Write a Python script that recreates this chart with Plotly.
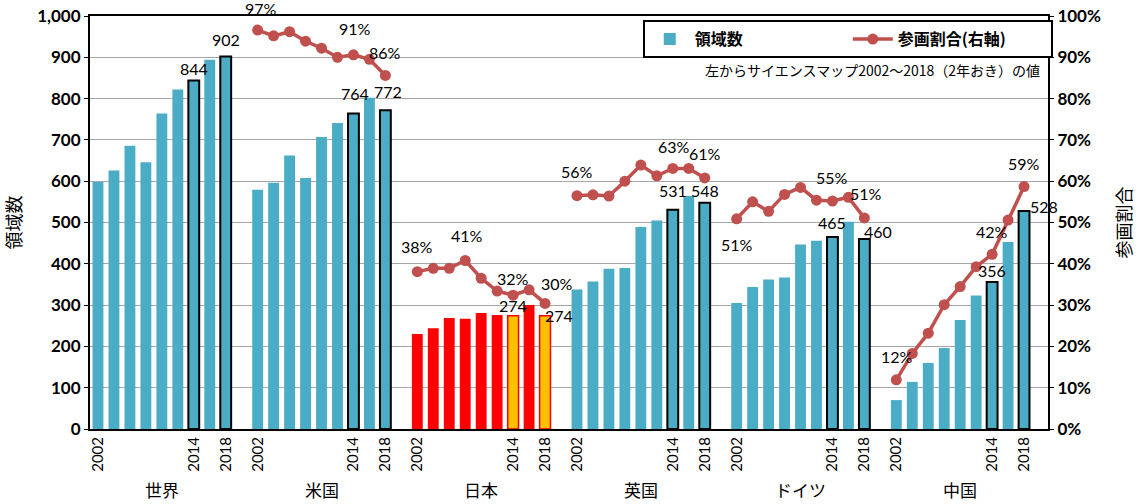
import plotly.graph_objects as go

# data
groups = ["世界", "米国", "日本", "英国", "ドイツ", "中国"]
years = [2002, 2004, 2006, 2008, 2010, 2012, 2014, 2016, 2018]

counts_world = [598, 626, 686, 646, 764, 822, 844, 894, 902]
counts_us = [579, 596, 662, 608, 707, 741, 764, 802, 772]
counts_jp = [230, 244, 269, 267, 281, 276, 274, 300, 274]
counts_uk = [338, 357, 388, 390, 489, 505, 531, 564, 548]
counts_de = [305, 344, 362, 367, 447, 456, 465, 502, 460]
counts_cn = [70, 114, 160, 196, 264, 323, 356, 453, 528]

ratio_world = [None] * 9
ratio_us = [96.6, 95.2, 96.2, 93.9, 92.2, 90.0, 90.6, 89.5, 85.6]
ratio_jp = [38.1, 38.9, 38.9, 40.8, 36.5, 33.4, 32.4, 33.7, 30.4]
ratio_uk = [56.5, 56.7, 56.4, 60.0, 63.9, 61.3, 63.1, 63.1, 60.8]
ratio_de = [50.9, 55.0, 52.7, 56.8, 58.5, 55.4, 55.2, 56.1, 51.1]
ratio_cn = [11.9, 18.3, 23.2, 30.1, 34.5, 39.3, 42.3, 50.6, 58.7]

counts = [counts_world, counts_us, counts_jp, counts_uk, counts_de, counts_cn]
ratios = [ratio_world, ratio_us, ratio_jp, ratio_uk, ratio_de, ratio_cn]

tick_years = [2002, 2014, 2018]
highlight_years = [2014, 2018]

# which ratio points get a label, and label offsets (px)
ratio_label_idx = {1: [0, 6, 8], 2: [0, 3, 6, 8], 3: [0, 6, 8], 4: [0, 6, 8], 5: [0, 6, 8]}
ratio_label_shift = {
    (1, 0): (3, 22), (1, 6): (2, 26), (1, 8): (0, 23),
    (2, 0): (0, 25), (2, 3): (2, 25), (2, 6): (0, 17), (2, 8): (12, 20),
    (3, 0): (0, 24), (3, 6): (1, 22), (3, 8): (0, 24),
    (4, 0): (0, -26), (4, 6): (0, 24), (4, 8): (2, 24),
    (5, 0): (1, 23), (5, 6): (0, 23), (5, 8): (0, 23),
}
count_label_shift = {
    (0, 6): (0, 12), (0, 8): (0, 17),
    (1, 6): (2, 20), (1, 8): (3, 19),
    (2, 6): (0, 10), (2, 8): (14, 0),
    (3, 6): (0, 19), (3, 8): (0, 12),
    (4, 6): (0, 14), (4, 8): (14, 8),
    (5, 6): (0, 11), (5, 8): (20, 4),
}

BLUE = "#4BACC6"
RED_LINE = "#C0504D"
FONT = "Lato, Noto Sans CJK JP"
JP = "Noto Sans CJK JP"
SLOT = len(years) + 1

xs, ys, colors, line_colors, line_widths = [], [], [], [], []
lx, ly = [], []
for gi, grp in enumerate(groups):
    for yi, yr in enumerate(years):
        x = gi * SLOT + yi
        xs.append(x)
        ys.append(counts[gi][yi])
        hl = yr in highlight_years
        if grp == "日本":
            colors.append("#FFC000" if hl else "#FF0000")
            line_colors.append("#FF0000")
            line_widths.append(1.5 if hl else 0)
        else:
            colors.append(BLUE)
            line_colors.append("#000000" if hl else BLUE)
            line_widths.append(2 if hl else 0)
        lx.append(x)
        ly.append(ratios[gi][yi])
    lx.append(gi * SLOT + len(years))
    ly.append(None)

fig = go.Figure()
fig.add_trace(
    go.Bar(
        x=xs,
        y=ys,
        name="領域数",
        marker=dict(color=colors, line=dict(color=line_colors, width=line_widths)),
        width=0.68,
    )
)
fig.add_trace(
    go.Scatter(
        x=lx,
        y=ly,
        yaxis="y2",
        mode="lines+markers",
        name="参画割合(右軸)",
        line=dict(color=RED_LINE, width=3.5),
        marker=dict(color=RED_LINE, size=11),
        connectgaps=False,
    )
)

annotations = []
for (gi, yi), (dx, dy) in count_label_shift.items():
    annotations.append(
        dict(x=gi * SLOT + yi, y=counts[gi][yi], xref="x", yref="y", text=str(counts[gi][yi]),
             showarrow=False, xshift=dx, yshift=dy, font=dict(size=16, color="#000"))
    )
for gi, idxs in ratio_label_idx.items():
    for yi in idxs:
        dx, dy = ratio_label_shift[(gi, yi)]
        annotations.append(
            dict(x=gi * SLOT + yi, y=ratios[gi][yi], xref="x", yref="y2", text=f"{round(ratios[gi][yi])}%",
                 showarrow=False, xshift=dx, yshift=dy, font=dict(size=16, color="#000"))
        )
for gi, grp in enumerate(groups):
    annotations.append(
        dict(x=gi * SLOT + (len(years) - 1) / 2, y=-0.181, xref="x", yref="paper", text=grp,
             showarrow=False, font=dict(size=17, family=JP, color="#000"))
    )
annotations.append(
    dict(x=0.994, y=0.899, xref="paper", yref="paper", xanchor="right", text="左からサイエンスマップ2002～2018（2年おき）の値",
         showarrow=False, font=dict(size=14, family=JP, color="#000"))
)

tickvals = [gi * SLOT + years.index(y) for gi in range(len(groups)) for y in tick_years]
ticktext = [str(y) for _ in groups for y in tick_years]

fig.update_layout(
    width=1142,
    height=504,
    margin=dict(l=90, r=94, t=16, b=75, autoexpand=False),
    plot_bgcolor="white",
    paper_bgcolor="white",
    font=dict(family=FONT, color="#000"),
    bargap=0.3,
    showlegend=True,
    legend=dict(
        orientation="h", x=0.577, y=0.99, xanchor="left", yanchor="top",
        bordercolor="#000", borderwidth=2, bgcolor="white",
        font=dict(size=16, family=JP, weight="bold"), entrywidth=148,
        itemwidth=40,
    ),
    annotations=annotations,
    xaxis=dict(
        range=[-0.5, len(groups) * SLOT - 0.5], tickvals=tickvals, ticktext=ticktext,
        tickangle=-90, tickfont=dict(size=15), showline=True, linecolor="#000", linewidth=2,
        mirror=True, showgrid=False, zeroline=False, ticks="", automargin=False,
    ),
    yaxis=dict(
        range=[0, 1000], dtick=100, tickformat=",", tickfont=dict(size=17, weight="bold"),
        showline=True, linecolor="#000", linewidth=2, gridcolor="#A6A6A6", gridwidth=1.3,
        ticks="outside", ticklen=4, tickcolor="#000", zeroline=False, automargin=False,
        ticklabeloverflow="allow",
        title=dict(text="領域数", font=dict(size=18, family=JP), standoff=12),
    ),
    yaxis2=dict(
        range=[0, 100], dtick=10, ticksuffix="%", overlaying="y", side="right",
        tickfont=dict(size=17, weight="bold"), showline=True, linecolor="#000", linewidth=2,
        showgrid=False, ticks="outside", ticklen=4, tickcolor="#000", zeroline=False, automargin=False,
        ticklabeloverflow="allow",
        title=dict(text="参画割合", font=dict(size=18, family=JP), standoff=18),
    ),
)

# drop the default 8px page margin so the 1142x504 figure fills the window exactly
fig.write_html(
    "out.html",
    config={"displayModeBar": False},
    post_script="document.body.style.margin = '0px';",
)
